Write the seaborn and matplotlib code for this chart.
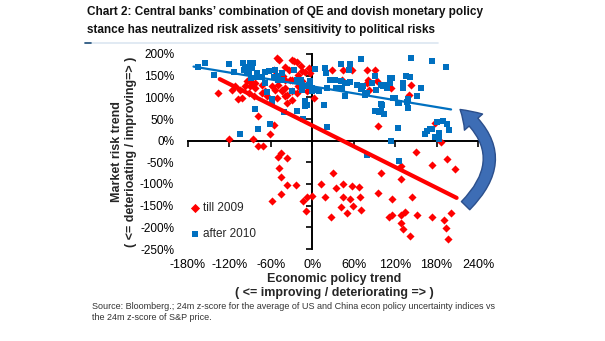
import numpy as np
import pandas as pd
import matplotlib
matplotlib.use("Agg")
import matplotlib.pyplot as plt
from matplotlib.lines import Line2D
import seaborn as sns

# Economic policy trend (x, %) vs market risk trend (y, %)
till2009_x = [-136, -121, -116, -112, -107, -104, -102, -97, -95, -92, -90, -87, -86, -85,
              -83, -83, -79, -78, -73, -73, -71, -68, -66, -61, -58, -56, -56, -54, -51, -51,
              -49, -48, -44, -44, -42, -39, -39, -39, -39, -37, -37, -34, -32, -29, -29, -29,
              -29, -27, -22, -22, -20, -20, -17, -15, -15, -10, -8, -5, -3, 2, 29, 43, 44, 57,
              79, 80, 79, 82, 91, 94, 95, 114, 140, 143, 177, 186,
              -46, -49, -36, -48, -46, -36, -23, -45, -58, -13, -8, -1, -9,
              30, 13, 35, 44, 58, 68, 18, 44, 55, 69, 42, 59, 70, 50, 27,
              99, 95, 116, 129, 128, 150, 174, 145, 111, 115, 128, 134, 152, 173, 128, 131,
              141, 195, 207, 201, 191, 193, 196]
till2009_y = [111, 4, 117, 125, 95, 118, 98, 125, 137, 109, 125, 132, 4, 102,
              133, 121, -13, 56, 109, 129, -13, 114, 102, 15, 125, 36, 163, 118, 98, 191,
              129, 186, 114, 117, 149, 171, 140, 102, 122, 106, 87, 164, 141, 186, 140, 94,
              114, 183, 182, 109, 152, 125, 172, 160, 137, 159, 114, 168, 156, 98, 162, 141, 162, 162,
              162, 140, 133, 116, 162, 137, 34, 122, 106, 128, 40, -2,
              -28, -38, -41, -63, -83, -102, -102, -123, -139, -139, -129, -128, -162,
              -74, -99, -109, -99, -105, -106, -129, -131, -134, -131, -152, -151, -159, -168, -175,
              -74, -120, -134, -88, -58, -25, -57, -129, -177, -172, -171, -165, -172, -177, -189, -203,
              -219, -42, -65, -168, -183, -202, -226]

after2010_x = [-166, -156, -142, -121, -113, -104, -100, -99, -97, -96, -94, -92, -90, -89,
               -87, -86, -83, -80, -80, -79, -73, -68, -68, -66, -63, -61, -59, -58, -56, -54,
               -49, -49, -44, -44, -41, -29, -27, -22, -22, -17, -15, -15, -13, -11, -10, -8,
               -8, -5, -4, -3, 0, 0, 4, 7, 9, 17, 18, 20, 21, 21, 26, 33, 35, 41, 41, 43, 47,
               48, 50, 53, 54, 55, 65, 70, 70, 72, 74, 77, 79, 79, 86, 91, 91, 92, 96, 99, 99,
               99, 101, 103, 104, 106, 108, 113, 113, 114, 115, 117, 120, 124, 124, 125, 125,
               131, 132, 135, 137, 138, 139, 142, 143, 152, 157, 163, 166, 170, 173, 174, 177,
               181, 183, 183, 189, 193, 195, 198]
after2010_y = [171, 180, 151, 176, 159, 15, 179, 163, 168, 171, 155, 156, 179, 144,
               168, 180, 72, 156, 148, 28, 148, 159, 134, 113, 160, 39, 88, 95, 148, 164,
               140, 149, 155, 141, 65, 114, 162, 141, 68, 140, 117, 129, 49, 80, 91, 125,
               83, 129, 125, 137, 114, 122, 166, 118, 114, 82, 168, 157, 121, 32, 141, 141, 121, 176, 137, 122, 134,
               102, 133, 164, 176, 136, 129, 189, 120, 122, 125, 106, -32, 109, 134, 149, 68, 117, 66, 129, 85,
               68, 83, 125, 62, 129, 121, 133, 144, 0, 145, 98, 99, 88, 29, -47, 87,
               122, 133, 149, 90, 95, 75, 148, 190, 102, 121, 15, 22, 28, 27, 183, 9,
               44, 5, 17, 45, 169, 38, 25]

# Linear trend lines (end points)
till2009_fit_x = [-134, 209]
till2009_fit_y = [142, -132]
after2010_fit_x = [-172, 201]
after2010_fit_y = [171, 72]

x_ticks = [-180, -120, -60, 0, 60, 120, 180, 240]
y_ticks = [200, 150, 100, 50, 0, -50, -100, -150, -200, -250]

RED = "#FF0000"
BLUE = "#0070C0"

sns.set_theme(style="white")
plt.rcParams["font.family"] = ["Liberation Sans", "DejaVu Sans"]

red_df = pd.DataFrame({"x": till2009_x, "y": till2009_y})
blue_df = pd.DataFrame({"x": after2010_x, "y": after2010_y})

fig = plt.figure(figsize=(6.05, 3.41), dpi=100)
pos = [188 / 605, 1 - 249 / 341, 290 / 605, 195 / 341]
ax = fig.add_axes(pos)

sns.scatterplot(data=red_df, x="x", y="y", ax=ax, marker="D", s=17, color=RED,
                linewidth=0, label="till 2009", zorder=3)
sns.scatterplot(data=blue_df, x="x", y="y", ax=ax, marker="s", s=20, color=BLUE,
                linewidth=0, label="after 2010", zorder=4)
sns.lineplot(x=after2010_fit_x, y=after2010_fit_y, ax=ax, color=BLUE, linewidth=1.6,
             zorder=5, legend=False)
sns.lineplot(x=till2009_fit_x, y=till2009_fit_y, ax=ax, color=RED, linewidth=3.0,
             zorder=5, legend=False)

ax.set_xlim(-180, 240)
ax.set_ylim(-250, 200)
ax.set_xlabel("")
ax.set_ylabel("")
ax.set_xticks(x_ticks)
ax.set_yticks(y_ticks)
for side in ("top", "right"):
    ax.spines[side].set_visible(False)
for side in ("left", "bottom"):
    ax.spines[side].set_position(("data", 0))
    ax.spines[side].set_color("black")
    ax.spines[side].set_linewidth(1.4)
    ax.spines[side].set_zorder(2)
ax.tick_params(axis="both", direction="out", length=4, width=1.2, color="black",
               labelleft=False, labelbottom=False, left=True, bottom=True)
ax.patch.set_visible(False)

# tick labels sit on the outer edge of the plot area
lab = fig.add_axes(pos, sharex=ax, sharey=ax)
lab.patch.set_visible(False)
for s in lab.spines.values():
    s.set_visible(False)
lab.tick_params(axis="both", length=0, colors="black")
lab.tick_params(axis="y", pad=10, labelsize=8.5)
lab.tick_params(axis="x", pad=7, labelsize=9)
lab.set_xticks(x_ticks)
lab.set_yticks(y_ticks)
lab.set_xticklabels([f"{v}%" for v in x_ticks])
lab.set_yticklabels([f"{v}%" for v in y_ticks])
lab.grid(False)
ax.grid(False)

leg = ax.legend(loc="lower left", bbox_to_anchor=(-0.003, 0.02), frameon=False,
                fontsize=8.5, handlelength=0.6, handletextpad=0.35, labelspacing=1.25,
                borderaxespad=0.0)
for h in leg.legend_handles:
    h.set_sizes([22])

# curved arrow from the 2009 trend towards the post-2010 trend
ax.annotate("", xy=(214, 72), xytext=(222, -150), xycoords="data", textcoords="data",
            annotation_clip=False,
            arrowprops=dict(arrowstyle="simple,head_width=1.25,head_length=0.95,tail_width=0.6",
                            connectionstyle="arc3,rad=0.55", facecolor="#3D6DB5",
                            edgecolor="#2B4F8C", linewidth=1.0, shrinkA=0, shrinkB=0,
                            mutation_scale=14))

# titles and axis labels
fig.text(87 / 605, 1 - 6 / 341,
         "Chart 2: Central banks\u2019 combination of QE and dovish monetary policy\n"
         "stance has neutralized risk assets\u2019 sensitivity to political risks",
         ha="left", va="top", fontsize=8.5, fontweight="bold",
         color="#111111", linespacing=1.65)
fig.add_artist(Line2D([85 / 605, 438 / 605], [1 - 43 / 341, 1 - 43 / 341],
                      transform=fig.transFigure, color="#DCE6F1", linewidth=1.2))
fig.add_artist(Line2D([85 / 605, 91 / 605], [1 - 43 / 341, 1 - 43 / 341],
                      transform=fig.transFigure, color="#1F4E79", linewidth=1.2))

fig.text(124 / 605, 1 - 152 / 341,
         "Market risk trend\n( <= deterioating / improving=> )",
         rotation=90, ha="center", va="center", multialignment="center",
         fontsize=9, fontweight="bold", linespacing=1.2)
fig.text(334 / 605, 1 - 286 / 341,
         "Economic policy trend\n( <= improving / deteriorating => )",
         ha="center", va="center", multialignment="center",
         fontsize=9, fontweight="bold", linespacing=1.2)

fig.text(92 / 605, 1 - 302 / 341,
         "Source: Bloomberg.; 24m z-score for the average of US and China econ policy uncertainty indices vs\n"
         "the 24m z-score of S&P price.",
         ha="left", va="top", fontsize=6.5, color="#333333", linespacing=1.35)

fig.savefig("out.png", dpi=100)
